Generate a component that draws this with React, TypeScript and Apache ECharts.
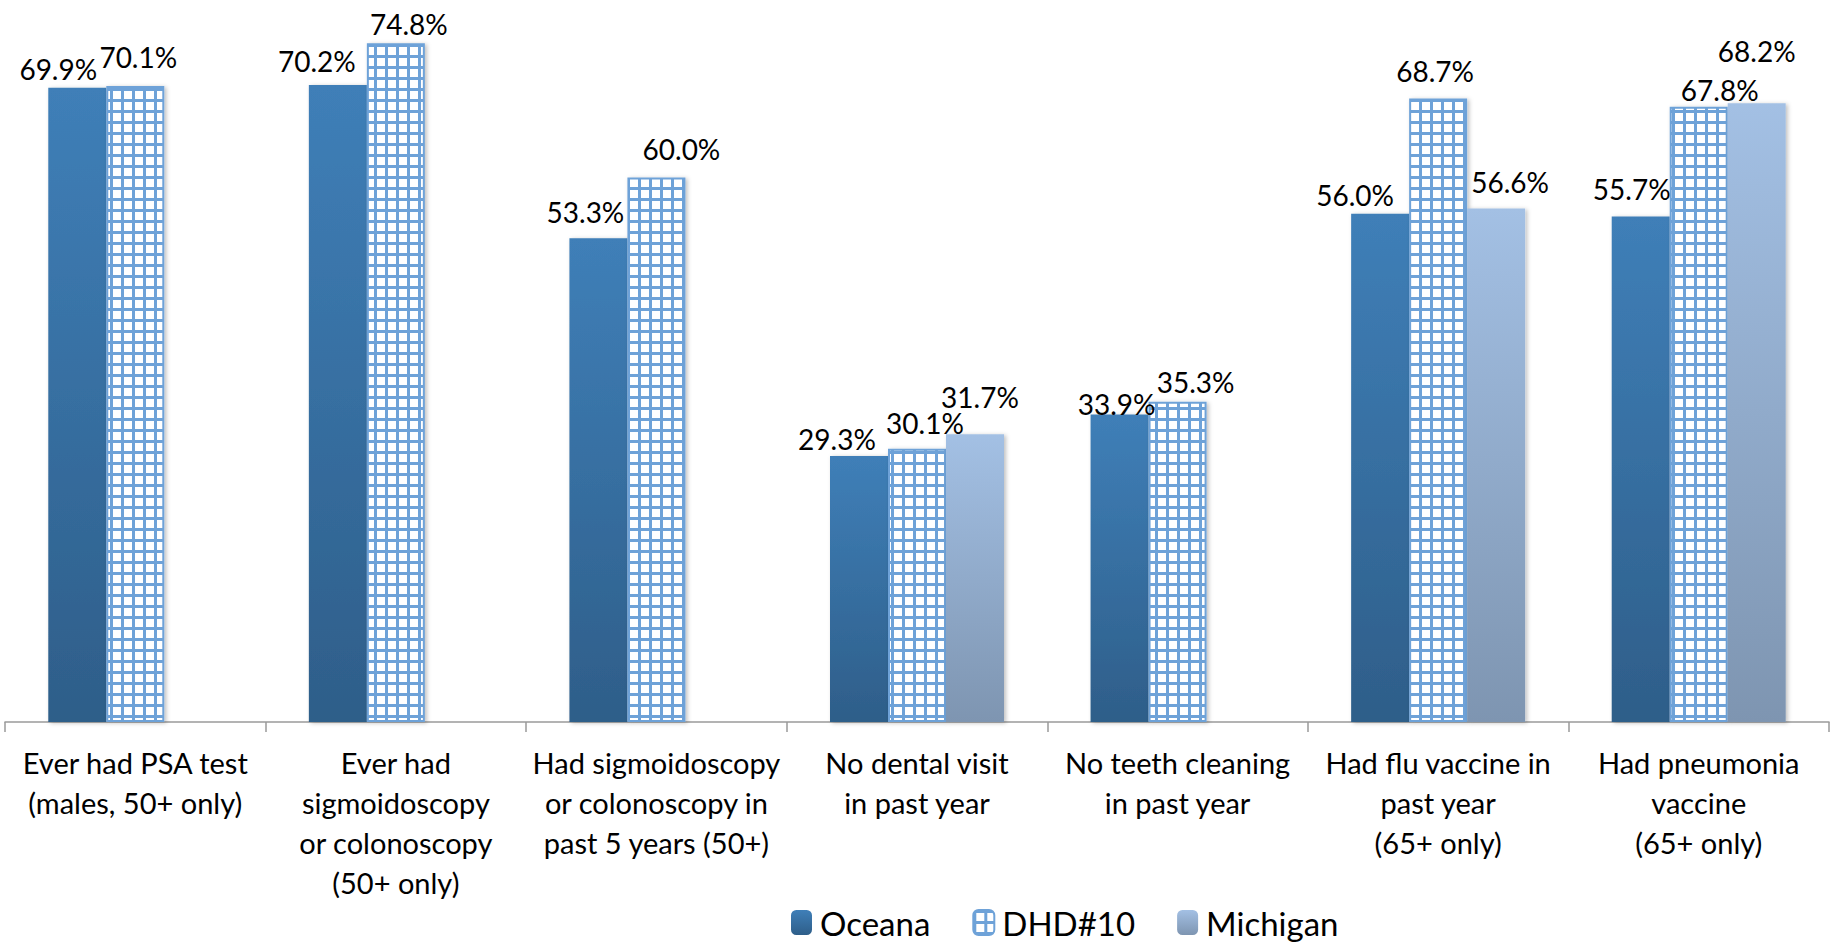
import React, { useEffect, useRef } from "react";
import * as echarts from "echarts";

const categories = [
  "Ever had PSA test\n(males, 50+ only)",
  "Ever had\nsigmoidoscopy\nor colonoscopy\n(50+ only)",
  "Had sigmoidoscopy\nor colonoscopy in\npast 5 years (50+)",
  "No dental visit\nin past year",
  "No teeth cleaning\nin past year",
  "Had flu vaccine in\npast year\n(65+ only)",
  "Had pneumonia\nvaccine\n(65+ only)",
];
const seriesNames = ["Oceana", "DHD#10", "Michigan"];
const oceana = [69.9, 70.2, 53.3, 29.3, 33.9, 56.0, 55.7];
const dhd10 = [70.1, 74.8, 60.0, 30.1, 35.3, 68.7, 67.8];
const michigan = [null, null, null, 31.7, null, 56.6, 68.2];

// label nudges [dx, gap above bar] mimicking the manual label placement
const oceanaLabelNudge = [[-19, 11], [-21, 16], [-13, 18], [-22, 9], [-3, 2], [-25, 11], [-9, 20]];
const dhdLabelNudge = [[3, 21], [13, 11], [25, 21], [8, 18], [18, 12], [-3, 20], [21, 8.5]];
const michiganLabelNudge = [null, null, null, [5, 29], null, [14, 18], [0, 44]];

const FONT = "Lato, 'Open Sans', sans-serif";

function buildData(values: (number | null)[], nudges: (number[] | null)[]) {
  return values.map((v, i) => {
    if (v == null) return "-";
    const n = nudges[i] || [0, 8];
    return {
      value: v,
      label: { offset: [n[0], -(n[1] - 6)] },
    };
  });
}

function makeGridPattern(): HTMLCanvasElement {
  const c = document.createElement("canvas");
  c.width = 11;
  c.height = 11;
  const ctx = c.getContext("2d")!;
  ctx.fillStyle = "#ffffff";
  ctx.fillRect(0, 0, 11, 11);
  ctx.fillStyle = "#6ea2d8";
  ctx.fillRect(0, 0, 11, 3);
  ctx.fillRect(0, 0, 3, 11);
  return c;
}

const shadow = {
  shadowBlur: 4,
  shadowOffsetX: 2,
  shadowOffsetY: 1,
  shadowColor: "rgba(0,0,0,0.25)",
};

const labelStyle = {
  show: true,
  position: "top",
  distance: 0,
  fontFamily: FONT,
  fontSize: 28,
  lineHeight: 28,
  color: "#000",
  formatter: (p: any) => Number(p.value).toFixed(1) + "%",
};

export default function App() {
  const ref = useRef<HTMLDivElement>(null);
  useEffect(() => {
    if (!ref.current) return;
    const chart = echarts.init(ref.current, null, { renderer: "svg" });
    const pattern = makeGridPattern();
    chart.setOption({
      animation: false,
      backgroundColor: "#fff",
      grid: { left: 5, right: 6, top: 14.2, bottom: 229, containLabel: false },
      legend: {
        left: 786,
        top: 901,
        itemWidth: 21,
        itemHeight: 25,
        itemGap: 42,
        textStyle: { fontFamily: FONT, fontSize: 33, color: "#000", padding: [0, 0, 0, 3] },
        data: seriesNames,
      },
      xAxis: {
        type: "category",
        data: categories,
        axisLine: { show: true, lineStyle: { color: "#9a9a9a", width: 1.5 } },
        axisTick: { show: true, length: 10, lineStyle: { color: "#9a9a9a", width: 1.5 } },
        axisLabel: {
          interval: 0,
          margin: 20,
          fontFamily: FONT,
          fontSize: 29,
          lineHeight: 40,
          color: "#000",
          align: "center",
        },
      },
      yAxis: {
        type: "value",
        min: 0,
        max: 78,
        show: false,
        splitLine: { show: false },
      },
      series: [
        {
          name: seriesNames[0],
          type: "bar",
          barWidth: 58,
          barGap: "0%",
          data: buildData(oceana, oceanaLabelNudge),
          label: labelStyle,
          itemStyle: {
            color: new echarts.graphic.LinearGradient(0, 0, 0, 1, [
              { offset: 0, color: "#3f7fb8" },
              { offset: 1, color: "#2e5e89" },
            ]),
            ...shadow,
          },
        },
        {
          name: seriesNames[1],
          type: "bar",
          barWidth: 58,
          barGap: "0%",
          data: buildData(dhd10, dhdLabelNudge),
          label: labelStyle,
          itemStyle: {
            color: { image: pattern, repeat: "repeat" },
            borderColor: "#6ea2d8",
            borderWidth: 2,
            ...shadow,
          },
        },
        {
          name: seriesNames[2],
          type: "bar",
          barWidth: 58,
          barGap: "0%",
          data: buildData(michigan, michiganLabelNudge),
          label: labelStyle,
          itemStyle: {
            color: new echarts.graphic.LinearGradient(0, 0, 0, 1, [
              { offset: 0, color: "#a3c0e4" },
              { offset: 1, color: "#7e95b1" },
            ]),
            ...shadow,
          },
        },
      ],
    });
    return () => chart.dispose();
  }, []);
  return (
    <div
      ref={ref}
      style={{ position: "absolute", left: 0, top: 0, width: 1835, height: 951 }}
    />
  );
}
